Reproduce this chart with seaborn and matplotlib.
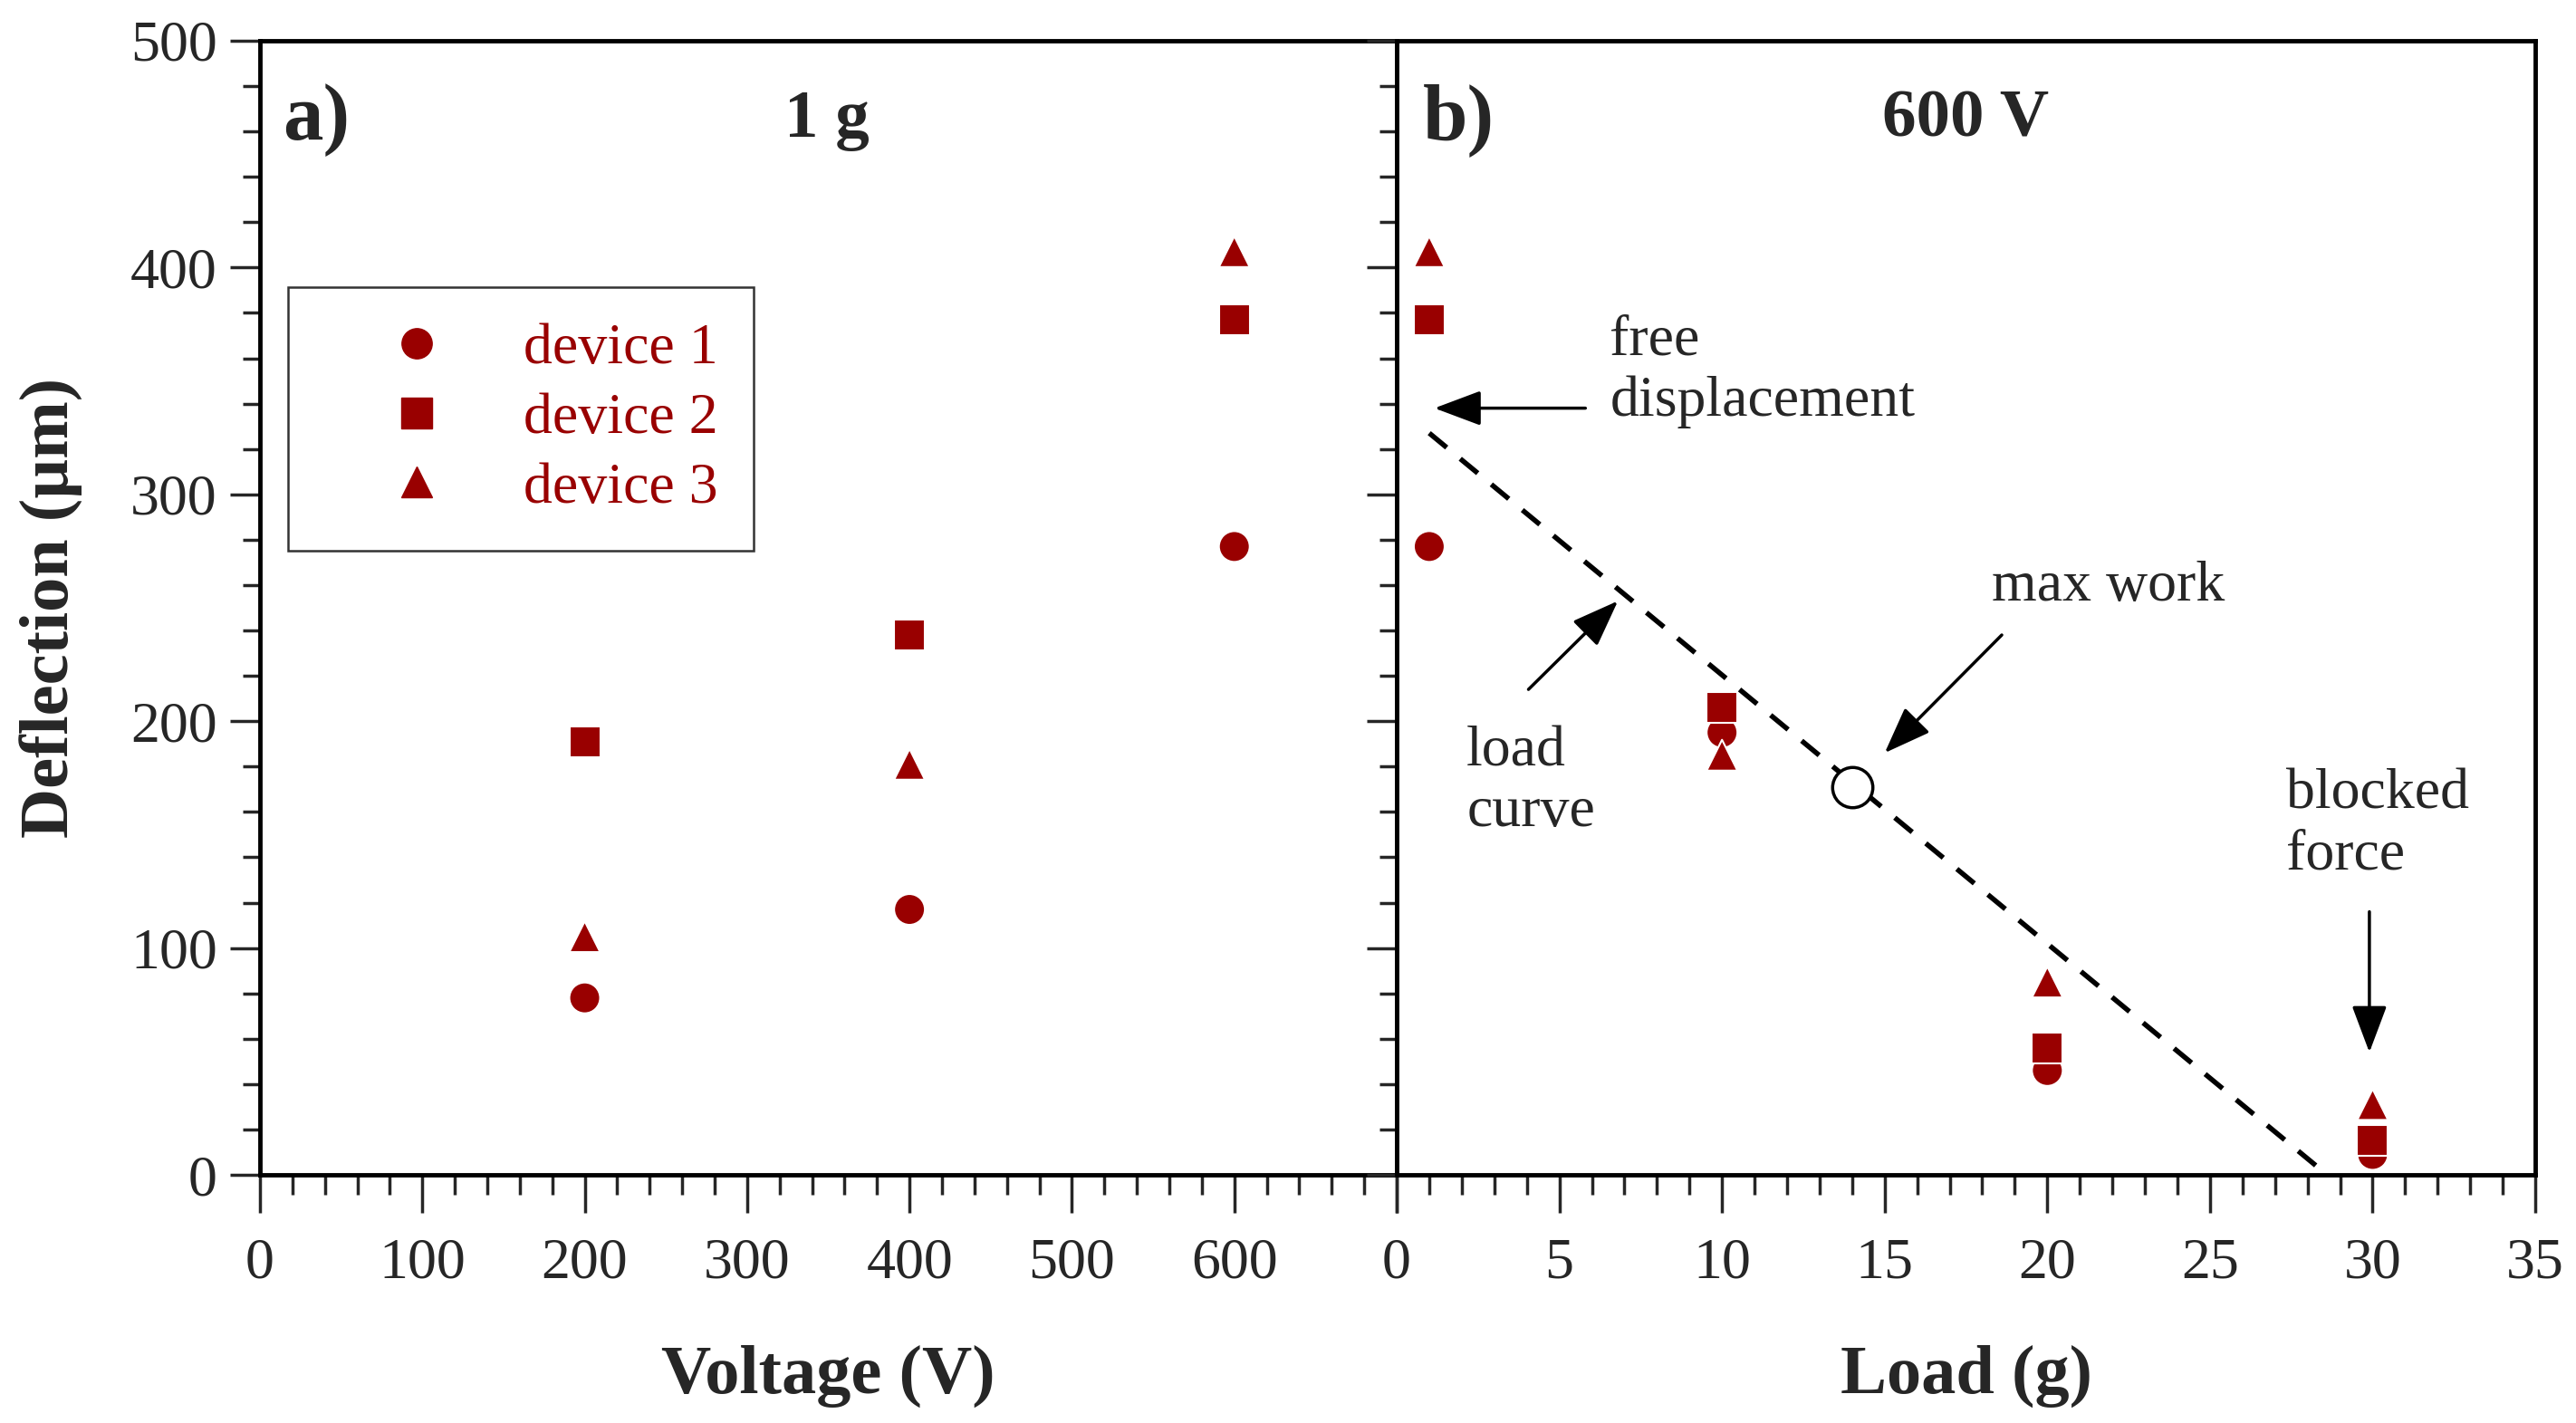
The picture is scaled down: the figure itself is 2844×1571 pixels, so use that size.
import numpy as np
import pandas as pd
import matplotlib
matplotlib.use('Agg')
import matplotlib.pyplot as plt
from matplotlib.lines import Line2D
from matplotlib.ticker import MultipleLocator
import seaborn as sns

# data
devices = ['device 1', 'device 2', 'device 3']
voltage = [200, 400, 600]
defl_volt_dev1 = [78, 117, 277]
defl_volt_dev2 = [191, 238, 377]
defl_volt_dev3 = [105, 181, 407]

load = [1, 10, 20, 30]
defl_load_dev1 = [277, 195, 46, 9]
defl_load_dev2 = [377, 206, 56, 15]
defl_load_dev3 = [407, 185, 85, 31]

# load curve (dashed) and max work point
curve_load = [1, 28.6]
curve_defl = [327, 0]
max_work_load = [14]
max_work_defl = [171]

red = '#990000'
markers = {'device 1': 'o', 'device 2': 's', 'device 3': '^'}

df_v = pd.DataFrame({
    'Voltage': voltage * 3,
    'Deflection': defl_volt_dev1 + defl_volt_dev2 + defl_volt_dev3,
    'device': [d for d in devices for _ in voltage],
})
df_l = pd.DataFrame({
    'Load': load * 3,
    'Deflection': defl_load_dev1 + defl_load_dev2 + defl_load_dev3,
    'device': [d for d in devices for _ in load],
})

sns.set_style('ticks')
plt.rcParams['font.family'] = ['Liberation Serif', 'DejaVu Serif']

fs_tick = 46
fs_label = 55

fig = plt.figure(figsize=(28.44, 15.71), dpi=100)
ax1 = fig.add_axes([0.1009, 0.1744, 0.4413, 0.797])
ax2 = fig.add_axes([0.5422, 0.1744, 0.4420, 0.797])

sns.scatterplot(data=df_v, x='Voltage', y='Deflection', style='device', markers=markers,
                color=red, s=600, edgecolor='white', linewidth=1.5, legend=False, ax=ax1, zorder=3)
sns.scatterplot(data=df_l, x='Load', y='Deflection', style='device', markers=markers,
                color=red, s=600, edgecolor='white', linewidth=1.5, legend=False, ax=ax2, zorder=3)

# load curve + max work marker
sns.lineplot(x=curve_load, y=curve_defl, ax=ax2, color='black', lw=4,
             linestyle=(0, (4.5, 3.5)), zorder=2)
ax2.plot(max_work_load, max_work_defl, 'o', ms=32, mfc='white', mec='black', mew=2.5, zorder=4)

for ax, xmax, major, minor in [(ax1, 700, 100, 20), (ax2, 35, 5, 1)]:
    ax.set_xlim(0, xmax)
    ax.set_ylim(0, 500)
    ax.xaxis.set_major_locator(MultipleLocator(major))
    ax.xaxis.set_minor_locator(MultipleLocator(minor))
    ax.yaxis.set_major_locator(MultipleLocator(100))
    ax.yaxis.set_minor_locator(MultipleLocator(20))
    ax.tick_params(axis='x', which='major', direction='out', length=30, width=2.5,
                   labelsize=fs_tick, pad=20, top=False)
    ax.tick_params(axis='x', which='minor', direction='out', length=16, width=2.5, top=False)
    ax.tick_params(axis='y', which='major', direction='out', length=24, width=2.5,
                   labelsize=fs_tick, pad=10, right=False)
    ax.tick_params(axis='y', which='minor', direction='out', length=14, width=2.5, right=False)
    for sp in ax.spines.values():
        sp.set_visible(True)
        sp.set_linewidth(3.5)
        sp.set_color('black')
    ax.set_facecolor('white')

ax1.set_xticks([0, 100, 200, 300, 400, 500, 600, 700])
ax1.set_xticklabels(['0', '100', '200', '300', '400', '500', '600', ''])
ax2.set_yticklabels([])

ax1.set_xlabel('Voltage (V)', fontsize=fs_label, fontweight='bold')
ax2.set_xlabel('Load (g)', fontsize=fs_label, fontweight='bold')
ax1.set_ylabel('Deflection (µm)', fontsize=fs_label, fontweight='bold')
ax2.set_ylabel('')
ax1.xaxis.set_label_coords(0.5, -0.15)
ax2.xaxis.set_label_coords(0.5, -0.15)
ax1.yaxis.set_label_coords(-0.155, 0.5)

# panel letters and titles
ax1.text(14, 465, 'a)', fontsize=64, fontweight='bold', ha='left', va='center')
ax1.text(349, 465, '1 g', fontsize=54, fontweight='bold', ha='center', va='center')
ax2.text(0.8, 465, 'b)', fontsize=64, fontweight='bold', ha='left', va='center')
ax2.text(17.5, 465, '600 V', fontsize=54, fontweight='bold', ha='center', va='center')

# legend
handles = [Line2D([], [], ls='none', marker=markers[d], ms=24, mfc=red, mec=red) for d in devices]
leg = ax1.legend(handles, devices, loc='upper left', bbox_to_anchor=(0.0246, 0.7826),
                 borderaxespad=0, fontsize=fs_tick, frameon=True, fancybox=False,
                 borderpad=0.62, handlelength=3.2, handletextpad=0.25, labelspacing=0.28)
leg.get_frame().set_edgecolor('black')
leg.get_frame().set_linewidth(1.8)
for t in leg.get_texts():
    t.set_color(red)

# annotations
arrow = dict(arrowstyle='-|>,head_length=3.2,head_width=1.2', color='black', lw=2.5,
             shrinkA=0, shrinkB=0)
ax2.annotate('', xy=(1.16, 338), xytext=(5.8, 338), arrowprops=arrow)
ax2.text(6.55, 354, 'free\ndisplacement', fontsize=fs_tick, ha='left', va='center')
ax2.annotate('', xy=(6.8, 253), xytext=(4.05, 214), arrowprops=arrow)
ax2.text(2.15, 173, 'load\ncurve', fontsize=fs_tick, ha='left', va='center')
ax2.annotate('', xy=(15.0, 186), xytext=(18.6, 238), arrowprops=arrow)
ax2.text(18.3, 259, 'max work', fontsize=fs_tick, ha='left', va='center')
ax2.annotate('', xy=(29.9, 54), xytext=(29.9, 116), arrowprops=arrow)
ax2.text(27.35, 154, 'blocked\nforce', fontsize=fs_tick, ha='left', va='center')

fig.savefig('out.png', dpi=100, facecolor='white')
